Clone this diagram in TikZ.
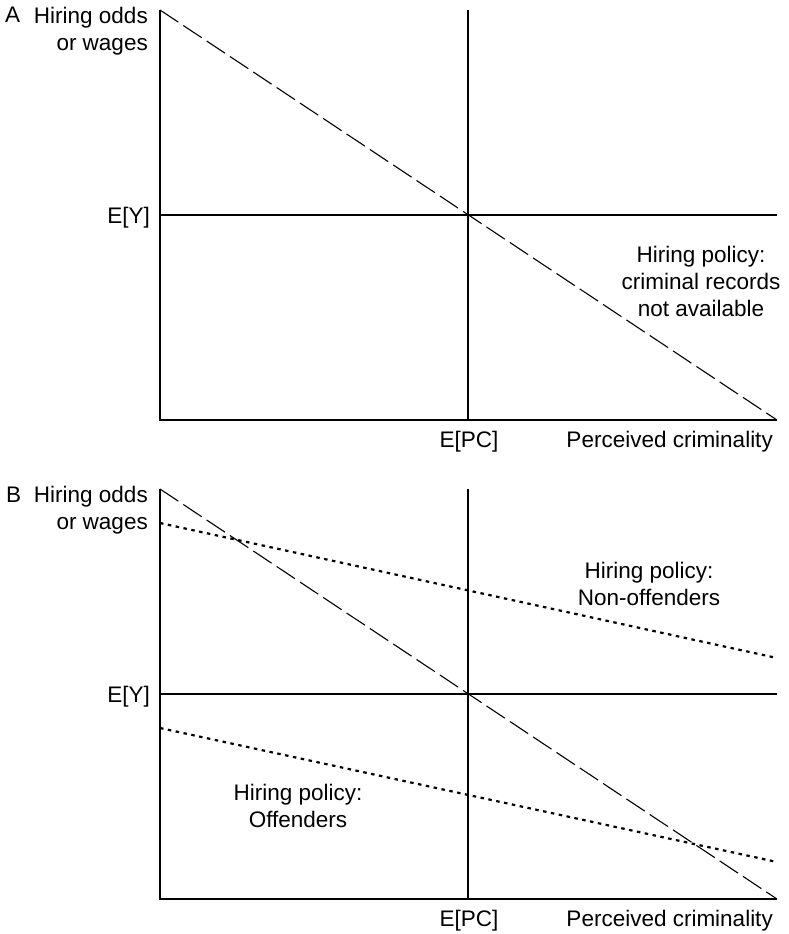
\documentclass[tikz,border=0pt]{standalone}
\usepackage{fontspec}
\setmainfont{Liberation Sans}
\begin{document}
\begin{tikzpicture}[x=1pt,y=-1pt,
  lbl/.style={inner sep=0pt, font=\fontsize{22.5}{27}\selectfont},
  axisline/.style={line width=1.7pt, line join=miter},
  refline/.style={line width=1.1pt},
  dashline/.style={line width=1.1pt, dash pattern=on 22pt off 6pt},
  dotline/.style={line width=2.2pt, dash pattern=on 3.5pt off 4.5pt}]
\useasboundingbox (0,0) rectangle (788,934);

% ---------- Panel A ----------
\coordinate (Atop) at (160,10);
\coordinate (Aorig) at (160,420);
\coordinate (Aend) at (777,420);
\coordinate (Amt) at (468,10);
\coordinate (Amb) at (468,420);
\coordinate (Ayl) at (160,215);
\coordinate (Ayr) at (777,215);

\draw[axisline] (Atop) -- (Aorig) -- (Aend);
\draw[refline] (Amt) -- (Amb);
\draw[refline] (Ayl) -- (Ayr);
\draw[dashline] (Atop) -- (Aend);

\node[lbl, anchor=base west] (Alet) at (5,23) {A};
\node[lbl, anchor=north east, align=right] (Ayax) at (148,7) {Hiring odds\\or wages};
\node[lbl, anchor=base east] (AEY) at (150,223) {E[Y]};
\node[lbl, anchor=base] (AEPC) at (469,447) {E[PC]};
\node[lbl, anchor=base east] (Axax) at (773,447) {Perceived criminality};
\node[lbl, anchor=north, align=center] (Apol) at (701,246) {Hiring policy:\\criminal records\\not available};

% ---------- Panel B ----------
\coordinate (Btop) at (160,489);
\coordinate (Borig) at (160,899);
\coordinate (Bend) at (777,899);
\coordinate (Bmt) at (468,489);
\coordinate (Bmb) at (468,899);
\coordinate (Byl) at (160,694);
\coordinate (Byr) at (777,694);
\coordinate (Bus) at (160,523);
\coordinate (Bue) at (777,658);
\coordinate (Bls) at (160,728);
\coordinate (Ble) at (777,862);

\draw[axisline] (Btop) -- (Borig) -- (Bend);
\draw[refline] (Bmt) -- (Bmb);
\draw[refline] (Byl) -- (Byr);
\draw[dashline] (Btop) -- (Bend);
\draw[dotline] (Bus) -- (Bue);
\draw[dotline] (Bls) -- (Ble);

\node[lbl, anchor=base west] (Blet) at (6,502) {B};
\node[lbl, anchor=north east, align=right] (Byax) at (148,486) {Hiring odds\\or wages};
\node[lbl, anchor=base east] (BEY) at (150,702) {E[Y]};
\node[lbl, anchor=base] (BEPC) at (469,926) {E[PC]};
\node[lbl, anchor=base east] (Bxax) at (773,926) {Perceived criminality};
\node[lbl, anchor=north, align=center] (Bnon) at (649,562) {Hiring policy:\\Non-offenders};
\node[lbl, anchor=north, align=center] (Boff) at (298,784) {Hiring policy:\\Offenders};
\end{tikzpicture}
\end{document}
